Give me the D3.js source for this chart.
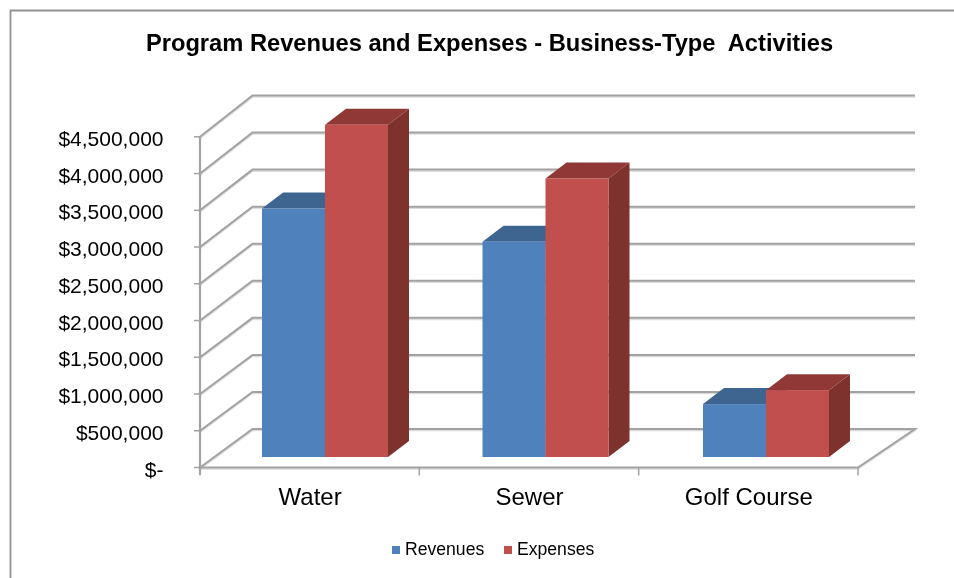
<!DOCTYPE html>
<html><head><meta charset="utf-8">
<script src="https://cdn.jsdelivr.net/npm/d3@7"></script>
<style>html,body{margin:0;padding:0;background:#fff}svg{display:block}text{font-family:"Liberation Sans",Arial,sans-serif;fill:#000}</style>
</head><body><div id="c"></div>
<script>
const title = "Program Revenues and Expenses - Business-Type  Activities";
const categories = ["Water","Sewer","Golf Course"];
const seriesNames = ["Revenues","Expenses"];
const revenues = [3380000,2930000,720000];
const expenses = [4520000,3790000,910000];
const tickValues = [0,500000,1000000,1500000,2000000,2500000,3000000,3500000,4000000,4500000];
const colors = {Revenues:{front:"#4f81bd",top:"#3d6590",side:"#355a85"},Expenses:{front:"#c0504d",top:"#8f3936",side:"#7d302e"}};

const W=954,H=578;
const svg=d3.select("#c").append("svg").attr("width",W).attr("height",H);
const defs=svg.append("defs");
defs.append("filter").attr("id","soft").append("feGaussianBlur").attr("stdDeviation",0.55);
defs.append("filter").attr("id","softText").append("feGaussianBlur").attr("stdDeviation",0.3);

// frame: only the left and top edges fall inside the picture
svg.append("path").attr("d",`M10.5,${H} V10.5 H${W}`).attr("fill","none").attr("stroke","#929292").attr("stroke-width",1.8);

const x0=200,x1=858,xBackL=252.5,xBackR=915;
const y=d3.scaleLinear().domain([0,4500000]).range([467.5,136.8]);
const yBack=d3.scaleLinear().domain([0,4500000]).range([429,95.5]);
const xb=d3.scaleBand().domain(categories).range([x0,x1]);
const xBars=d3.scalePoint().domain(categories).range([325,766]);
const g=svg.append("g").attr("filter","url(#soft)");
const grid="#a2a2a2";
function gridPath(d){
  g.append("path").attr("fill","none").attr("stroke","#dcdcdc").attr("stroke-width",1.6).attr("transform","translate(0,1.5)").attr("d",d);
  g.append("path").attr("fill","none").attr("stroke",grid).attr("stroke-width",2).attr("d",d);
}
tickValues.forEach(v=>{
  const a=y(v),b=yBack(v);
  gridPath(v===0?`M${x0},${a} L${xBackL},${b} H${xBackR} L${x1},${a} H${x0}`:`M${x0},${a} L${xBackL},${b} H${xBackR}`);
});
// y axis + ticks
g.append("line").attr("x1",x0).attr("x2",x0).attr("y1",y(4500000)).attr("y2",y(0)+7).attr("stroke",grid).attr("stroke-width",2.2);
tickValues.forEach(v=>g.append("line").attr("x1",x0-6).attr("x2",x0).attr("y1",y(v)).attr("y2",y(v)).attr("stroke",grid).attr("stroke-width",1.5));
[...categories.map(c=>xb(c)),x1].forEach(xx=>g.append("line").attr("x1",xx).attr("x2",xx).attr("y1",y(0)).attr("y2",y(0)+8).attr("stroke",grid).attr("stroke-width",1.5));

// bars
const barW=63,bdx=21,bdy=-16,baseY=457;
const h=d3.scaleLinear().domain([0,4500000]).range([0,y(0)-y(4500000)]);
function bar(cx,v,c){
  const top=baseY-h(v);
  g.append("path").attr("fill",c.side).attr("d",`M${cx+barW},${top} l${bdx},${bdy} V${baseY+bdy} l${-bdx},${-bdy} Z`);
  g.append("path").attr("fill",c.top).attr("d",`M${cx},${top} l${bdx},${bdy} h${barW} l${-bdx},${-bdy} Z`);
  g.append("rect").attr("x",cx).attr("y",top).attr("width",barW).attr("height",h(v)).attr("fill",c.front);
}
categories.forEach((cat,i)=>{
  const c=xBars(cat);
  bar(c-barW,revenues[i],colors.Revenues);
  bar(c,expenses[i],colors.Expenses);
});

// text
const t=svg.append("g").attr("filter","url(#softText)");
const fmt=v=>v===0?"$-":"$"+d3.format(",")(v);
tickValues.forEach(v=>t.append("text").attr("x",163.5).attr("y",y(v)+9).attr("text-anchor","end").attr("font-size",21).text(fmt(v)));
categories.forEach(cat=>t.append("text").attr("x",xb(cat)+xb.bandwidth()/2+0.5).attr("y",505).attr("text-anchor","middle").attr("font-size",24).text(cat));
t.append("text").attr("x",489.5).attr("y",50.5).attr("text-anchor","middle").attr("font-size",23.7).attr("font-weight","bold").style("white-space","pre").text(title);

// legend
const lx=[392,504];
seriesNames.forEach((s,i)=>{
  t.append("rect").attr("x",lx[i]).attr("y",546).attr("width",8).attr("height",8).attr("fill",colors[s].front);
  t.append("text").attr("x",lx[i]+13).attr("y",555).attr("font-size",17.6).text(s);
});
</script></body></html>
